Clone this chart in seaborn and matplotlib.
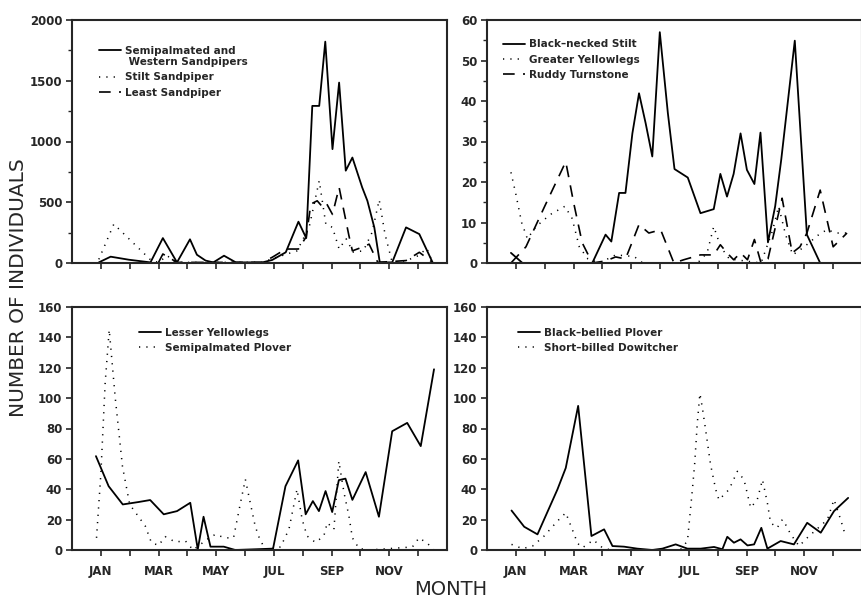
import numpy as np
import pandas as pd
import matplotlib
matplotlib.use("Agg")
import matplotlib.pyplot as plt
import seaborn as sns

# sample dates as month positions (1 = JAN tick) and counts
# --- panel A: sandpipers
semi_x = [0.93, 1.34, 1.97, 2.72, 3.15, 3.64, 4.09, 4.33, 4.63, 4.9, 5.27, 5.68, 6.6, 6.94, 7.41,
          7.85, 8.12, 8.33, 8.57, 8.78, 9.03, 9.26, 9.49, 9.72, 10.06, 10.24, 10.48, 10.67, 11.1,
          11.58, 12.04, 12.5]
semi_y = [5, 52, 27, 5, 205, 5, 195, 68, 20, 5, 60, 5, 5, 25, 88,
          340, 205, 1293, 1293, 1822, 937, 1485, 760, 868, 622, 512, 293, 5, 5,
          293, 238, 5]
stilt_sp_x = [0.93, 1.45, 2.75, 3.0, 3.3, 3.6, 6.6, 7.0, 7.8, 8.22, 8.57, 8.8, 9.03, 9.26, 9.5,
              9.75, 10.1, 10.4, 10.65, 10.85, 11.1, 11.6, 12.0, 12.3, 12.5]
stilt_sp_y = [30, 320, 20, 5, 60, 5, 5, 40, 100, 293, 677, 320, 293, 115, 200,
              90, 100, 250, 520, 238, 5, 20, 60, 120, 5]
least_x = [3.0, 3.15, 3.64, 6.6, 6.94, 7.41, 7.85, 8.12, 8.28, 8.5, 8.65, 8.8, 9.03, 9.26, 9.45,
           9.6, 9.72, 10.06, 10.3, 10.6, 11.58, 12.04, 12.5]
least_y = [5, 74, 5, 5, 47, 115, 115, 216, 485, 512, 471, 500, 400, 622, 400,
           225, 100, 130, 155, 5, 20, 88, 5]

# --- panel B
bns_x = [0.83, 1.23, 3.65, 4.11, 4.31, 4.58, 4.8, 5.04, 5.27, 5.5, 5.73, 5.99, 6.27, 6.5, 6.96,
         7.4, 7.86, 8.09, 8.32, 8.55, 8.79, 9.01, 9.27, 9.48, 9.74, 9.99, 10.2, 10.67, 11.09,
         11.55, 12.5]
bns_y = [2.5, 0, 0, 7, 5.3, 17.3, 17.3, 32, 41.9, 34.5, 26.3, 57, 37, 23.2, 21.1,
         12.3, 13.3, 22, 16.4, 22, 32, 23, 19.5, 32.2, 5.1, 14, 25.5, 54.9, 7,
         0, 0]
gy_x = [0.83, 1.0, 1.2, 1.4, 1.7, 2.2, 2.7, 2.95, 3.2, 3.5, 3.9, 4.46, 5.1, 5.4, 7.3, 7.63, 7.86,
        8.1, 8.4, 9.5, 9.9, 10.11, 10.35, 10.6, 11.0, 11.5, 11.78, 12.13, 12.5]
gy_y = [22.4, 17, 10, 6, 9, 12, 14, 11, 4, 1, 0, 2, 1.6, 0, 0, 2.5, 9,
        4, 1, 0, 8, 14, 7, 2, 4, 7, 8.2, 7.4, 7.4]
rt_x = [0.83, 1.35, 2.0, 2.73, 3.0, 3.3, 3.65, 4.11, 4.46, 4.8, 5.04, 5.27, 5.61, 6.02, 6.48,
        6.82, 7.4, 7.86, 8.09, 8.32, 8.55, 8.79, 9.03, 9.27, 9.5, 9.74, 10.23, 10.58, 10.85,
        11.09, 11.55, 12.0, 12.48]
rt_y = [0, 4, 14, 25, 15, 5, 0, 0.5, 1.5, 1, 5.3, 9.5, 7.4, 8.2, 0,
        0.8, 2, 2, 4.5, 2.5, 0.8, 2.5, 0.8, 5.8, 0, 1, 16, 2.5, 4,
        7.4, 18, 4, 7.4]

# --- panel C
ly_x = [0.83, 1.27, 1.76, 2.31, 2.71, 3.18, 3.64, 4.1, 4.36, 4.56, 4.8, 5.26, 5.66, 6.97, 7.4,
        7.84, 8.1, 8.35, 8.56, 8.79, 9.02, 9.25, 9.48, 9.72, 10.18, 10.64, 11.1, 11.62, 12.09, 12.55]
ly_y = [61.8, 42, 30, 31.6, 32.9, 23.5, 25.6, 31.1, 0.4, 21.9, 2.2, 2.2, 0, 0.9, 42,
        59, 23.5, 32.2, 25.6, 38.8, 25, 46, 47, 33, 51.3, 21.9, 78.2, 83.7, 68.4, 119]
sp_x = [0.85, 1.0, 1.15, 1.29, 1.5, 1.75, 2.0, 2.54, 2.75, 3.0, 3.23, 3.58, 3.93, 4.2, 4.68, 4.97,
        5.3, 5.6, 5.84, 6.01, 6.18, 6.35, 6.47, 6.7, 7.23, 7.52, 7.8, 7.98, 8.15, 8.44, 8.73, 8.85,
        9.08, 9.25, 9.43, 9.6, 9.72, 9.95, 10.3, 11.8, 12.03, 12.32, 12.55]
sp_y = [8, 50, 110, 145, 100, 55, 30, 15.8, 5, 3, 8.8, 5.3, 6, 0, 7, 10.3,
        8, 8, 31, 46.5, 31, 15.8, 9, 0, 2, 13.6, 40, 20, 9.2, 5, 9.2, 18,
        13.6, 58.5, 37.7, 22.4, 8, 1, 0, 2, 8, 4.4, 0]

# --- panel D
bbp_x = [0.85, 1.29, 1.75, 2.44, 2.73, 3.16, 3.62, 4.06, 4.35, 4.75, 5.21, 5.73, 6.08, 6.54, 6.95,
         7.41, 7.87, 8.16, 8.33, 8.56, 8.79, 9.03, 9.26, 9.51, 9.72, 10.18, 10.64, 11.1, 11.57,
         12.03, 12.52]
bbp_y = [26, 15.3, 10.3, 39.8, 54, 94.9, 9.2, 13.6, 2.6, 2.2, 0.9, 0, 0.9, 3.7, 0.9,
         0.9, 2, 0.5, 8.7, 4.8, 7, 3, 3.7, 14.6, 0.9, 5.9, 3.7, 17.9, 11.4,
         25.6, 34.3]
sbd_x = [0.85, 1.23, 1.58, 1.98, 2.44, 2.73, 3.0, 3.14, 3.31, 3.69, 4.0, 4.3, 6.7, 6.95, 7.12, 7.2,
         7.29, 7.38, 7.46, 7.58, 7.75, 7.93, 8.04, 8.39, 8.68, 8.91, 9.14, 9.37, 9.55, 9.72, 9.83,
         10.06, 10.24, 10.35, 10.53, 10.82, 11.1, 11.45, 11.8, 12.03, 12.26, 12.43]
sbd_y = [3.7, 0.9, 2.6, 9.2, 19, 24.5, 11.4, 4.4, 1.5, 6.6, 1.5, 0, 0, 6, 39.8, 57,
         83.5, 103, 94.4, 79, 56.2, 39.8, 33, 39.8, 51.8, 46.3, 27.8, 33.2, 46.3, 31, 18,
         14.6, 20.1, 16.8, 10.3, 2.6, 8, 14, 20, 33.2, 20, 9.2]

month_ticks = list(range(1, 13))
month_labels = ["JAN", "", "MAR", "", "MAY", "", "JUL", "", "SEP", "", "NOV", ""]

sns.set_style("ticks")
plt.rcParams["font.family"] = ["DejaVu Sans"]

SOLID = "-"
DOT = (0, (0.8, 4))
DASH = (0, (7, 5))

fig = plt.figure(figsize=(8.61, 6.0), dpi=100)
w, h = 375 / 861, 243 / 600
axA = fig.add_axes([72 / 861, 1 - 263 / 600, w, h])
axB = fig.add_axes([487 / 861, 1 - 263 / 600, w, h])
axC = fig.add_axes([72 / 861, 1 - 550 / 600, w, h])
axD = fig.add_axes([487 / 861, 1 - 550 / 600, w, h])


def draw(ax, x, y, label, ls, lw):
    df = pd.DataFrame({"month": x, "count": y})
    sns.lineplot(data=df, x="month", y="count", ax=ax, color="black", linestyle=ls,
                 linewidth=lw, estimator=None, sort=False, label=label)


draw(axA, semi_x, semi_y, "Semipalmated and\n Western Sandpipers", SOLID, 1.3)
draw(axA, stilt_sp_x, stilt_sp_y, "Stilt Sandpiper", DOT, 1.1)
draw(axA, least_x, least_y, "Least Sandpiper", DASH, 1.2)

draw(axB, bns_x, bns_y, "Black\u2013necked Stilt", SOLID, 1.3)
draw(axB, gy_x, gy_y, "Greater Yellowlegs", DOT, 1.1)
draw(axB, rt_x, rt_y, "Ruddy Turnstone", DASH, 1.2)

draw(axC, ly_x, ly_y, "Lesser Yellowlegs", SOLID, 1.3)
draw(axC, sp_x, sp_y, "Semipalmated Plover", DOT, 1.1)

draw(axD, bbp_x, bbp_y, "Black\u2013bellied Plover", SOLID, 1.3)
draw(axD, sbd_x, sbd_y, "Short\u2013billed Dowitcher", DOT, 1.1)

limits = {axA: (2000, 500, 250), axB: (60, 10, 5), axC: (160, 20, None), axD: (160, 20, None)}
legend_pos = {axA: (0.072, 0.895), axB: (0.043, 0.92), axC: (0.179, 0.915), axD: (0.083, 0.915)}

for ax, (top, step, minor) in limits.items():
    ax.set_xlim(0, 13)
    ax.set_ylim(0, top)
    ax.set_yticks(np.arange(0, top + 1, step))
    if minor:
        ax.set_yticks(np.arange(minor, top, step), minor=True)
    ax.set_xticks(month_ticks)
    if ax in (axC, axD):
        ax.set_xticklabels(month_labels)
    else:
        ax.set_xticklabels([])
    ax.set_xlabel("")
    ax.set_ylabel("")
    for s in ax.spines.values():
        s.set_linewidth(1.5)
        s.set_visible(True)
    ax.tick_params(axis="both", which="major", direction="out", length=4, width=1.2,
                   labelsize=8.5, pad=3)
    ax.tick_params(axis="x", pad=7)
    ax.tick_params(axis="y", which="minor", direction="out", length=3, width=1.0)
    for t in ax.get_xticklabels() + ax.get_yticklabels():
        t.set_fontweight("bold")
    leg = ax.legend(loc="upper left", bbox_to_anchor=legend_pos[ax], frameon=False,
                    borderaxespad=0, borderpad=0, handlelength=2.1, handletextpad=0.4,
                    labelspacing=0.5, prop={"size": 7.5, "weight": "bold"})
    if ax is axA:
        # put the solid handle next to the first text line, as in the original
        hl = leg.legend_handles[0]
        hl.set_ydata(np.asarray(hl.get_ydata()) + 4.5)

fig.text(0.021, 0.52, "NUMBER OF INDIVIDUALS", rotation=90, ha="center", va="center",
         fontsize=14.5)
fig.text(0.523, 0.017, "MONTH", ha="center", va="center", fontsize=14)

fig.savefig("out.png", dpi=100)
